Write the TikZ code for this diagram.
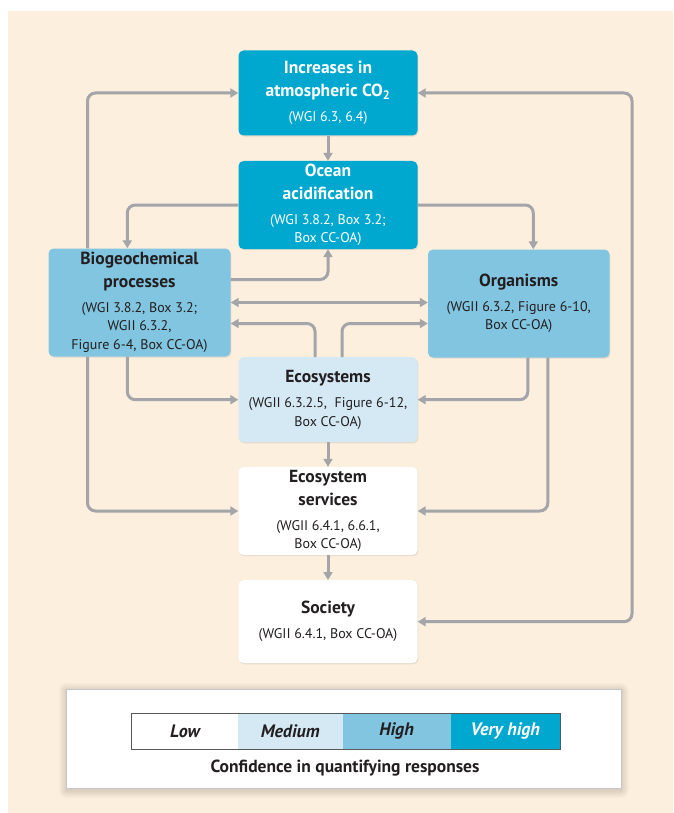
\documentclass[tikz,border=0pt]{standalone}
\usepackage{fontspec}
\setmainfont{PT Sans}
\usepackage{tikz}
\usetikzlibrary{arrows.meta,calc,shadows}
\definecolor{oacream}{HTML}{FCEFDD}
\definecolor{oagray}{HTML}{A3A5A9}
\definecolor{oatext}{HTML}{231F20}
\definecolor{oavhigh}{HTML}{00A7CE}
\definecolor{oahigh}{HTML}{82C5E0}
\definecolor{oamed}{HTML}{D4E9F4}
\definecolor{oaframe}{HTML}{C4C6CE}
\newcommand{\ttl}[1]{{\bfseries\fontsize{17.5}{18.5}\selectfont #1}}
\tikzset{
  box/.style={rounded corners=5pt, minimum width=179pt, inner sep=0pt,
    align=center, text=oatext, font=\fontsize{14}{18.5}\selectfont,
    drop shadow={opacity=.18, shadow xshift=.8pt, shadow yshift=-1.2pt}},
  conn/.style={draw=oagray, line width=3pt, rounded corners=8pt, ->},
  cell/.style={minimum height=36pt, inner sep=0pt, text=oatext,
    font=\bfseries\itshape\fontsize{18}{20}\selectfont},
}

\begin{document}
\begin{tikzpicture}[x=1pt, y=-1pt, >={Triangle[length=8pt,width=9pt]}]
\useasboundingbox (0,0) rectangle (673,813);
\fill[white] (0,0) rectangle (673,813);
\fill[oacream] (8,11) rectangle (673,813);
% rails of the two long loops
\coordinate (lrail) at (87.5,0);
\coordinate (rrail) at (632,0);

% boxes
\node[box, minimum height=85pt, fill=oavhigh, text=white] (co2) at (328,93)
  {\ttl{Increases in}\\[4pt]\ttl{atmospheric CO\textsubscript{2}}\\[6.5pt](WGI 6.3, 6.4)};
\node[box, minimum height=88pt, fill=oavhigh, text=white] (ocean) at (328,205)
  {\ttl{Ocean}\\[4pt]\ttl{acidification}\\[6.5pt](WGI 3.8.2, Box 3.2;\\Box CC-OA)};
\node[box, minimum width=182pt, minimum height=108pt, fill=oahigh] (bio) at (139.5,302.5)
  {\ttl{Biogeochemical}\\[4pt]\ttl{processes}\\[6.5pt](WGI 3.8.2, Box 3.2;\\WGII 6.3.2,\\Figure 6-4, Box CC-OA)};
\node[box, minimum width=181.5pt, minimum height=108pt, fill=oahigh] (org) at (518.75,303.5)
  {\ttl{Organisms}\\[6.5pt](WGII 6.3.2, Figure 6-10,\\Box CC-OA)};
\node[box, minimum height=85pt, fill=oamed] (eco) at (328,399.7)
  {\ttl{Ecosystems}\\[6.5pt](WGII 6.3.2.5,~ Figure 6-12,\\Box CC-OA)};
\node[box, minimum height=88pt, fill=white] (es) at (328,511)
  {\ttl{Ecosystem}\\[4pt]\ttl{services}\\[6.5pt](WGII 6.4.1, 6.6.1,\\Box CC-OA)};
\node[box, minimum height=83pt, fill=white] (soc) at (328,621.7)
  {\ttl{Society}\\[6.5pt](WGII 6.4.1, Box CC-OA)};

% main column
\draw[conn] (co2) -- (ocean);
\draw[conn] (eco) -- (es);
\draw[conn] (es) -- (soc);
% ocean acidification to both sides
\draw[conn] (ocean.west) -| ($(bio.north west)+(79,0)$);
\draw[conn] (ocean.east) -| ($(org.north west)+(105.5,0)$);
% middle links
\draw[conn] ($(bio.east)+(0,-23)$) -| (ocean.south);
\draw[conn, <->] (bio.east) -- (bio.east -| org.west);
\draw[conn] ($(eco.north)+(-13,0)$) |- ($(bio.east)+(0,21)$);
\draw[conn] ($(eco.north)+(14,0)$) |- ($(org.west)+(0,20)$);
\draw[conn] ($(bio.south west)+(79,0)$) |- (eco.west);
\draw[conn] ($(org.south west)+(100,0)$) |- (eco.east);
% outer loops
\draw[conn] (bio.north -| lrail) |- (co2.west);
\draw[conn] (bio.south -| lrail) |- (es.west);
\draw[conn] ($(org.south west)+(120,0)$) |- (es.east);
\draw[conn, <->] (co2.east) -- (co2.east -| rrail) -- (soc.east -| rrail) -- (soc.east);

% confidence legend
\foreach \i in {1,...,8}
  \fill[black, opacity=.016, rounded corners=\i pt] (66.5-\i,689-\i+2) rectangle (621+\i,788+\i+2);
\node[draw=oaframe, fill=white, line width=.8pt, minimum width=554.5pt, minimum height=99pt,
  inner sep=0pt] (leg) at (343.75,738.7) {};
\node[cell, fill=white, minimum width=106pt] (low) at (185,731.3) {Low};
\node[cell, fill=oamed, minimum width=104.5pt] (med) at (290.25,731.3) {Medium};
\node[cell, fill=oahigh, minimum width=108.1pt] (high) at (396.55,731.3) {High};
\node[cell, fill=oavhigh, minimum width=109.4pt, text=white] (vhigh) at (505.3,731.3) {Very high};
\draw[oatext!75, line width=.8pt] (low.north west) rectangle (vhigh.south east);
\node[text=oatext, font=\bfseries\fontsize{17.5}{20}\selectfont] (cap) at (345,768.5)
  {Confidence in quantifying responses};
\end{tikzpicture}
\end{document}
